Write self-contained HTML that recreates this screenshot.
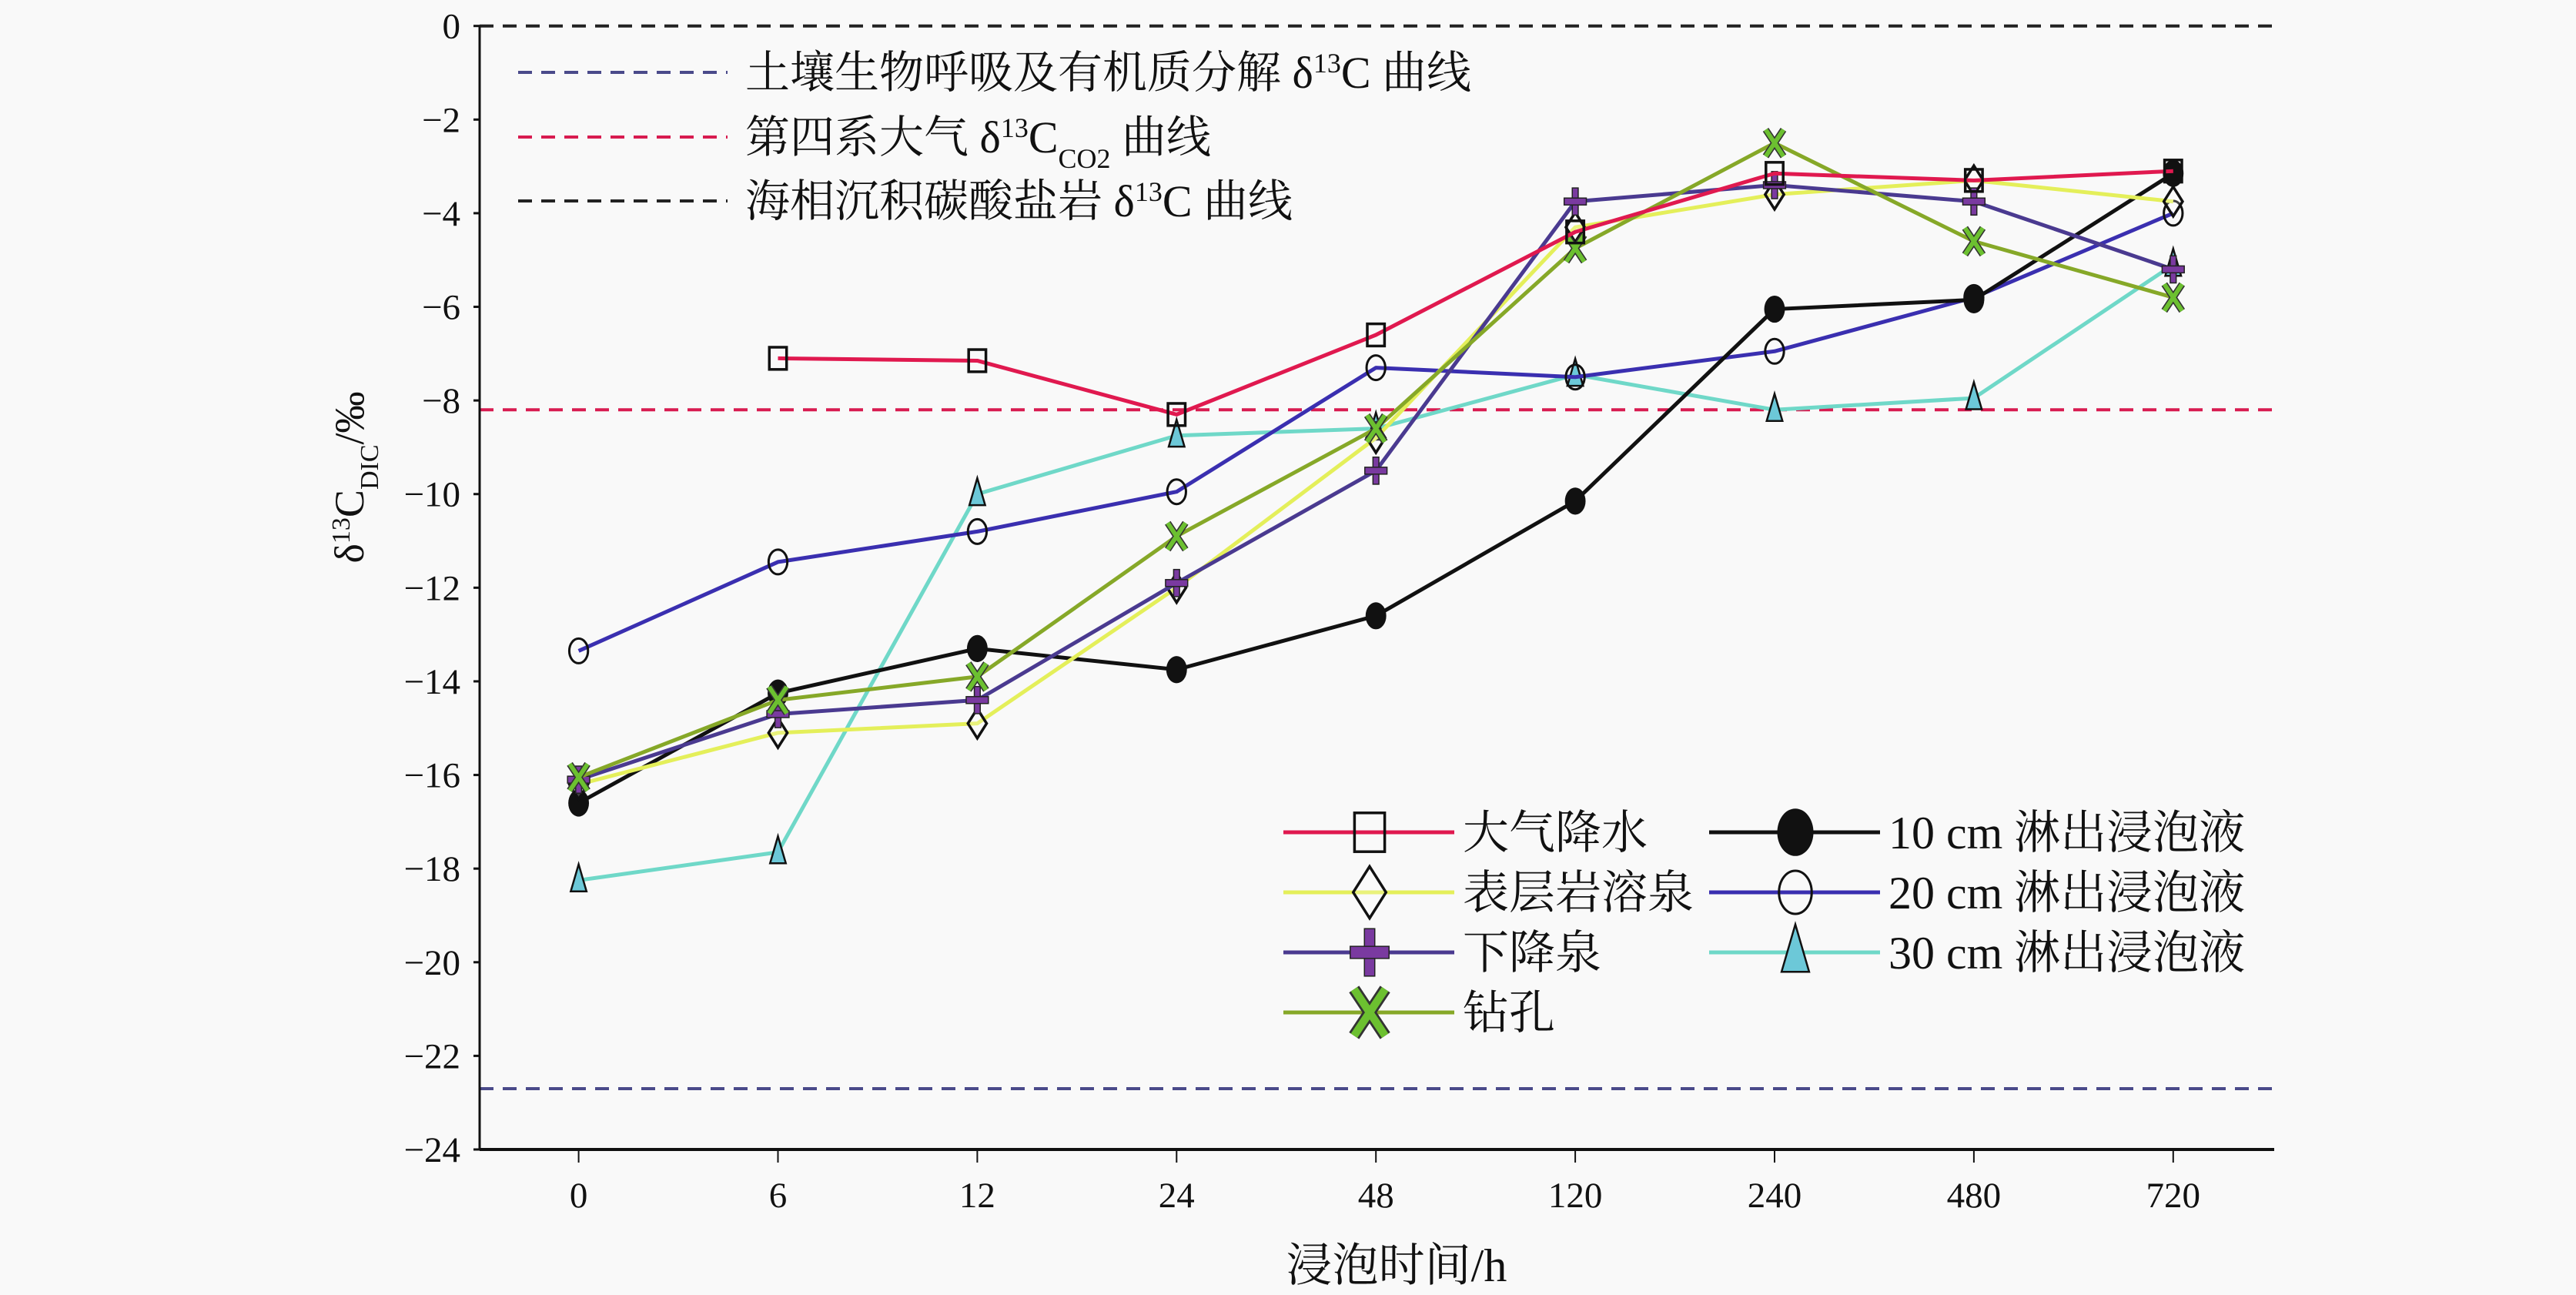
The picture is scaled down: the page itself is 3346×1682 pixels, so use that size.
<!DOCTYPE html>
<html><head><meta charset="utf-8"><style>
html,body{margin:0;padding:0;background:#f9f9f9;}
svg{display:block;}
text{font-family:"Liberation Serif","Noto Serif CJK SC","Noto Sans CJK SC",serif;fill:#111;}
</style></head><body>
<svg id="chart" width="3346" height="1682" viewBox="0 0 3346 1682">
<rect x="0" y="0" width="3346" height="1682" fill="#f9f9f9"/>
<g id="grid"></g><g id="axes"></g><g id="series"></g><g id="legend"></g>
</svg>
<script>
const categories = ["0","6","12","24","48","120","240","480","720"];
const yTicks = [0,-2,-4,-6,-8,-10,-12,-14,-16,-18,-20,-22,-24];
const refSoil = -22.7;
const refAtm = -8.2;
const refMarine = 0;
const rain = [null,-7.1,-7.15,-8.3,-6.6,-4.4,-3.15,-3.3,-3.1];
const epikarst = [-16.2,-15.1,-14.9,-12.0,-8.8,-4.3,-3.6,-3.3,-3.75];
const descSpring = [-16.1,-14.7,-14.4,-11.9,-9.5,-3.75,-3.4,-3.75,-5.2];
const borehole = [-16.05,-14.4,-13.9,-10.9,-8.6,-4.75,-2.5,-4.6,-5.8];
const leach10 = [-16.6,-14.25,-13.3,-13.75,-12.6,-10.15,-6.05,-5.85,-3.15];
const leach20 = [-13.35,-11.45,-10.8,-9.95,-7.3,-7.5,-6.95,-5.8,-4.0];
const leach30 = [-18.25,-17.65,-10.0,-8.75,-8.6,-7.45,-8.2,-7.95,-5.1];

const NS="http://www.w3.org/2000/svg";
const X0=623,X1=2954,Y0=33.7,YB=1493;
function xs(i){return 751.6+i*258.9;}
function ys(v){return Y0+(-v)*(YB-Y0)/24;}
function el(tag,attrs,parent,txt){const e=document.createElementNS(NS,tag);for(const k in attrs)e.setAttribute(k,attrs[k]);if(txt!==undefined)e.textContent=txt;parent.appendChild(e);return e;}
const axes=document.getElementById('axes'),grid=document.getElementById('grid'),ser=document.getElementById('series'),leg=document.getElementById('legend');

[[refMarine,'#222','ref-marine-carbonate-line'],[refAtm,'#d81b50','ref-atmosphere-co2-line'],[refSoil,'#4a4a8a','ref-soil-respiration-line']].forEach(r=>{
 const l=el('line',{x1:X0,x2:X1,y1:ys(r[0]),y2:ys(r[0]),stroke:r[1],'stroke-width':4,'stroke-dasharray':'18 12'},grid);
 
 
});

const ya=el('line',{x1:X0,x2:X0,y1:Y0,y2:YB,stroke:'#111','stroke-width':3},axes);


const xa=el('line',{x1:X0,x2:X1,y1:YB,y2:YB,stroke:'#111','stroke-width':4},axes);


yTicks.forEach(v=>{
 el('line',{x1:X0-8,x2:X0,y1:ys(v),y2:ys(v),stroke:'#111','stroke-width':3},axes);
 const t=el('text',{x:598,y:ys(v)+16,'text-anchor':'end','font-size':47},axes,v===0?'0':'\u2212'+(-v));
 
 
});
categories.forEach((c,i)=>{
 el('line',{x1:xs(i),x2:xs(i),y1:YB,y2:YB+17,stroke:'#111','stroke-width':2},axes);
 const t=el('text',{x:xs(i),y:1568,'text-anchor':'middle','font-size':47},axes,c);
 
 
});
const xt=el('text',{x:1814,y:1664,'text-anchor':'middle','font-size':60},axes,'浸泡时间/h');


const yt=el('text',{transform:'translate(472,620) rotate(-90)','text-anchor':'middle','font-size':54},axes);


yt.innerHTML='δ<tspan baseline-shift="super" font-size="34">13</tspan>C<tspan baseline-shift="sub" font-size="34">DIC</tspan>/‰';

function marker(type,x,y,s,parent){
 const g=el('g',{},parent);
 if(type==='square')el('rect',{x:x-s*0.35,y:y-s*0.45,width:s*0.7,height:s*0.9,fill:'none',stroke:'#111','stroke-width':3.5},g);
 else if(type==='diamond')el('polygon',{points:`${x},${y-s*0.6} ${x+s*0.38},${y} ${x},${y+s*0.6} ${x-s*0.38},${y}`,fill:'#fff','fill-opacity':0.2,stroke:'#111','stroke-width':3.5},g);
 else if(type==='plus'){el('rect',{x:x-s*0.12,y:y-s*0.55,width:s*0.24,height:s*1.1,fill:'#7a3aa0',stroke:'#222','stroke-width':1.5},g);el('rect',{x:x-s*0.45,y:y-s*0.14,width:s*0.9,height:s*0.28,fill:'#7a3aa0',stroke:'#222','stroke-width':1.5},g);}
 else if(type==='x'){const d=s*0.45;el('path',{d:`M${x-d*0.8},${y-d*1.2}L${x+d*0.8},${y+d*1.2}M${x+d*0.8},${y-d*1.2}L${x-d*0.8},${y+d*1.2}`,stroke:'#333','stroke-width':s*0.28,fill:'none'},g);el('path',{d:`M${x-d*0.8},${y-d*1.2}L${x+d*0.8},${y+d*1.2}M${x+d*0.8},${y-d*1.2}L${x-d*0.8},${y+d*1.2}`,stroke:'#6cc030','stroke-width':s*0.18,fill:'none'},g);}
 else if(type==='dot')el('ellipse',{cx:x,cy:y,rx:s*0.42,ry:s*0.55,fill:'#111'},g);
 else if(type==='circle')el('ellipse',{cx:x,cy:y,rx:s*0.38,ry:s*0.5,fill:'none',stroke:'#111','stroke-width':3},g);
 else if(type==='tri')el('polygon',{points:`${x},${y-s*0.65} ${x+s*0.32},${y+s*0.45} ${x-s*0.32},${y+s*0.45}`,fill:'#6cc8d8',stroke:'#111','stroke-width':2.5},g);
 return g;
}
const seriesDefs=[
 [leach30,'#6fd8c8','tri','series-30cm-leachate'],
 [leach20,'#3a2fb0','circle','series-20cm-leachate'],
 [leach10,'#111','dot','series-10cm-leachate'],
 [epikarst,'#e4ef5a','diamond','series-epikarst-spring'],
 [descSpring,'#4a3a90','plus','series-descending-spring'],
 [borehole,'#86a828','x','series-borehole'],
 [rain,'#e0194f','square','series-rainfall'],
];
seriesDefs.forEach(d=>{
 const g=el('g',{},ser);
 
 
 let pts=[];d[0].forEach((v,i)=>{if(v!==null)pts.push(xs(i)+','+ys(v));});
 el('polyline',{points:pts.join(' '),fill:'none',stroke:d[1],'stroke-width':5,'stroke-linejoin':'round'},g);
 d[0].forEach((v,i)=>{if(v===null)return;const m=marker(d[2],xs(i),ys(v),32,g);
  
  });
});

const topLeg=[[94,'#4a4a8a','土壤生物呼吸及有机质分解 δ<tspan baseline-shift="super" font-size="36">13</tspan>C 曲线','legend-soil-respiration'],
 [178,'#d81b50','第四系大气 δ<tspan baseline-shift="super" font-size="36">13</tspan>C<tspan baseline-shift="sub" font-size="36">CO2</tspan> 曲线','legend-atmosphere-co2'],
 [261,'#222','海相沉积碳酸盐岩 δ<tspan baseline-shift="super" font-size="36">13</tspan>C 曲线','legend-marine-carbonate']];
topLeg.forEach(r=>{
 const g=el('g',{},leg);
 
 
 el('line',{x1:673,x2:945,y1:r[0],y2:r[0],stroke:r[1],'stroke-width':4,'stroke-dasharray':'18 12'},g);
 const t=el('text',{x:968,y:r[0]+20,'font-size':58},g);t.innerHTML=r[2];
});
const legItems=[
 [1667,1081,'#e0194f','square','大气降水','legend-rainfall'],
 [1667,1159,'#e4ef5a','diamond','表层岩溶泉','legend-epikarst-spring'],
 [1667,1237,'#4a3a90','plus','下降泉','legend-descending-spring'],
 [1667,1315,'#86a828','x','钻孔','legend-borehole'],
 [2220,1081,'#111','dot','10 cm 淋出浸泡液','legend-10cm'],
 [2220,1159,'#3a2fb0','circle','20 cm 淋出浸泡液','legend-20cm'],
 [2220,1237,'#6fd8c8','tri','30 cm 淋出浸泡液','legend-30cm'],
];
legItems.forEach(r=>{
 const g=el('g',{},leg);
 
 
 el('line',{x1:r[0],x2:r[0]+222,y1:r[1],y2:r[1],stroke:r[2],'stroke-width':5},g);
 marker(r[3],r[0]+112,r[1],56,g);
 el('text',{x:r[0]+233,y:r[1]+21,'font-size':60},g,r[4]);
});
</script>
</body></html>
